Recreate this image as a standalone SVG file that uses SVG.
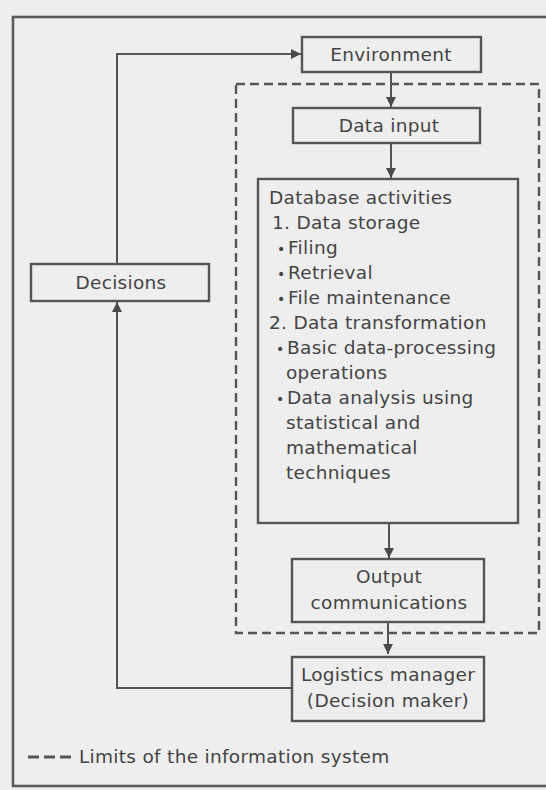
<svg xmlns="http://www.w3.org/2000/svg" width="546" height="790" viewBox="0 0 546 790">
  <defs>
    <marker id="arrow" viewBox="0 0 10 10" refX="10" refY="5" markerWidth="10" markerHeight="12" markerUnits="userSpaceOnUse" orient="auto">
      <path d="M0,0 L10,5 L0,10 Z" fill="#4a4a4a"/>
    </marker>
    <style>
      .box { fill: none; stroke: #555; stroke-width: 2.4; }
      .wire { fill: none; stroke: #555; stroke-width: 2; }
      .limit { fill: none; stroke: #555; stroke-width: 2.4; stroke-dasharray: 9 5; }
      text { font-family: "DejaVu Sans", "Liberation Sans", sans-serif; font-size: 18.5px; fill: #444; letter-spacing: 0.3px; }
      .c { text-anchor: middle; }
      .dot { font-size: 14px; }
    </style>
  </defs>

  <!-- paper -->
  <rect x="0" y="0" width="546" height="790" fill="#eeeeee"/>
  <!-- outer frame (right side runs off the sheet) -->
  <rect x="13" y="17" width="545" height="769" fill="none" stroke="#5a5a5a" stroke-width="2.6"/>

  <!-- boundary of the information system -->
  <rect id="system-limits" class="limit" x="236" y="84" width="303" height="549"/>

  <g id="connectors">
    <!-- feedback loop: decision maker -> decisions -> environment -->
    <polyline class="wire" points="292,688 117,688 117,302" marker-end="url(#arrow)"/>
    <polyline class="wire" points="117,264 117,54 301,54" marker-end="url(#arrow)"/>
    <!-- main flow -->
    <line class="wire" x1="391" y1="72" x2="391" y2="107" marker-end="url(#arrow)"/>
    <line class="wire" x1="391" y1="143" x2="391" y2="178" marker-end="url(#arrow)"/>
    <line class="wire" x1="389" y1="523" x2="389" y2="558" marker-end="url(#arrow)"/>
    <line class="wire" x1="388" y1="622" x2="388" y2="654" marker-end="url(#arrow)"/>
  </g>

  <g id="environment">
    <rect class="box" x="302" y="37" width="179" height="35"/>
    <text class="c" x="391" y="61">Environment</text>
  </g>

  <g id="data-input">
    <rect class="box" x="293" y="108" width="187" height="35"/>
    <text class="c" x="389" y="132">Data input</text>
  </g>

  <g id="database-activities">
    <rect class="box" x="258" y="179" width="260" height="344"/>
    <text x="269" y="204">Database activities</text>
    <text x="272" y="229">1. Data storage</text>
    <text x="277" y="254"><tspan class="dot">•</tspan><tspan x="288">Filing</tspan></text>
    <text x="277" y="279"><tspan class="dot">•</tspan><tspan x="288">Retrieval</tspan></text>
    <text x="277" y="304"><tspan class="dot">•</tspan><tspan x="288">File maintenance</tspan></text>
    <text x="269" y="329">2. Data transformation</text>
    <text x="276" y="354"><tspan class="dot">•</tspan><tspan x="287">Basic data-processing</tspan></text>
    <text x="286" y="379">operations</text>
    <text x="276" y="404"><tspan class="dot">•</tspan><tspan x="287">Data analysis using</tspan></text>
    <text x="286" y="429">statistical and</text>
    <text x="286" y="454">mathematical</text>
    <text x="286" y="479">techniques</text>
  </g>

  <g id="output-communications">
    <rect class="box" x="292" y="559" width="192" height="63"/>
    <text class="c" x="389" y="583">Output</text>
    <text class="c" x="389" y="609">communications</text>
  </g>

  <g id="logistics-manager">
    <rect class="box" x="292" y="657" width="192" height="64"/>
    <text class="c" x="388" y="681">Logistics manager</text>
    <text class="c" x="388" y="707">(Decision maker)</text>
  </g>

  <g id="decisions">
    <rect class="box" x="31" y="264" width="178" height="37"/>
    <text class="c" x="121" y="289">Decisions</text>
  </g>

  <g id="legend">
    <line x1="28" y1="757" x2="74" y2="757" stroke="#555" stroke-width="3" stroke-dasharray="11 5"/>
    <text x="79" y="763">Limits of the information system</text>
  </g>
</svg>
